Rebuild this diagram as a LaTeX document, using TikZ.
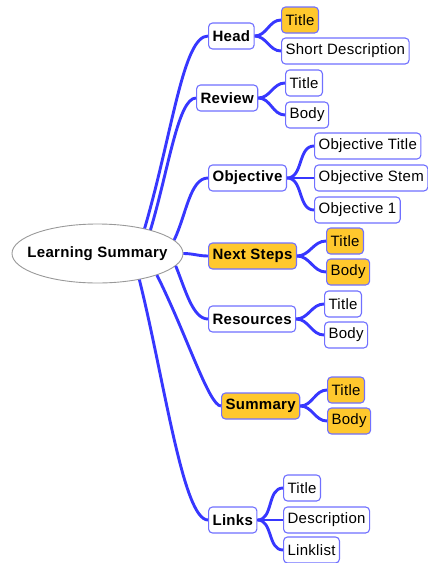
\documentclass[tikz,border=0pt]{standalone}
\usepackage{fontspec}
\setmainfont[LetterSpace=2]{Liberation Sans}
\usepackage{tikz}
\usetikzlibrary{shapes.geometric}
\usepackage{xcolor}
\definecolor{branchblue}{RGB}{55,55,255}
\definecolor{boxblue}{RGB}{112,112,255}
\definecolor{notegold}{RGB}{255,200,45}

\begin{document}
\begin{tikzpicture}[x=1pt, y=-1pt,
    topic/.style={draw=boxblue, line width=1.1pt, rounded corners=4pt, fill=white,
      font=\fontsize{15}{18}\selectfont\bfseries, inner xsep=4pt, minimum height=26pt, anchor=west},
    leaf/.style={topic, font=\fontsize{15}{18}\selectfont},
    gold/.style={fill=notegold},
    branch/.style={draw=branchblue, line width=2.9pt}]
    \useasboundingbox (0,0) rectangle (428,563);

    % centre
    \node[ellipse, draw=gray!80, line width=0.9pt, fill=white, inner sep=0pt,
      minimum width=171pt, minimum height=59pt,
      font=\fontsize{15}{18}\selectfont\bfseries] (ls) at (97.5,253.5) {\makebox[100pt]{Learning Summary}};

    % main topics
    \node[topic] (head) at (208,36) {Head};
    \node[topic] (review) at (196,98) {Review};
    \node[topic] (obj) at (208,178) {Objective};
    \node[topic, gold] (next) at (208,256) {Next Steps};
    \node[topic] (res) at (208,319) {Resources};
    \node[topic, gold] (summ) at (221,406) {Summary};
    \node[topic] (links) at (208,520) {Links};

    % leaves
    \node[leaf, gold] (headtitle) at (281,20) {Title};
    \node[leaf] (headdesc) at (281,51) {Short Description};
    \node[leaf] (revtitle) at (285,83) {Title};
    \node[leaf] (revbody) at (285,115) {Body};
    \node[leaf] (objtitle) at (314,146) {Objective Title};
    \node[leaf] (objstem) at (314,178) {Objective Stem};
    \node[leaf] (objone) at (314,210) {Objective 1};
    \node[leaf, gold] (nexttitle) at (326,241) {Title};
    \node[leaf, gold] (nextbody) at (326,272) {Body};
    \node[leaf] (restitle) at (324,304) {Title};
    \node[leaf] (resbody) at (324,335) {Body};
    \node[leaf, gold] (summtitle) at (327,390) {Title};
    \node[leaf, gold] (summbody) at (327,421) {Body};
    \node[leaf] (linkstitle) at (283,488) {Title};
    \node[leaf] (linksdesc) at (283,520) {Description};
    \node[leaf] (linkslist) at (283,550) {Linklist};

    % branches from the centre
    \draw[branch] (ls.28) .. controls +(28,-96) and +(-25,0) .. (head.west);
    \draw[branch] (ls.24) .. controls +(18,-60) and +(-18,0) .. (review.west);
    \draw[branch] (ls.10) .. controls +(12,-25) and +(-18,0) .. (obj.west);
    \draw[branch] (ls.east) to[out=0, in=180] (next.west);
    \draw[branch] (ls.-9) .. controls +(10,25) and +(-15,0) .. (res.west);
    \draw[branch] (ls.-20) .. controls +(30,60) and +(-12,0) .. (summ.west);
    \draw[branch] (ls.-32) .. controls +(25,100) and +(-25,0) .. (links.west);

    % branches to the leaves
    \foreach \p/\c in {head/headtitle, head/headdesc, review/revtitle, review/revbody,
        obj/objtitle, obj/objstem, obj/objone, next/nexttitle, next/nextbody,
        res/restitle, res/resbody, summ/summtitle, summ/summbody,
        links/linkstitle, links/linksdesc, links/linkslist}
        \draw[branch] (\p.east) to[out=0, in=180] (\c.west);
\end{tikzpicture}
\end{document}
